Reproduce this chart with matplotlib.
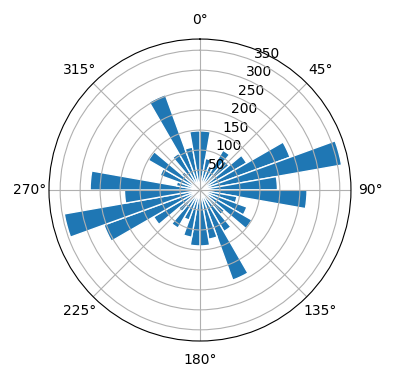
import numpy as np
import matplotlib
matplotlib.use("Agg")
import matplotlib.pyplot as plt

# bin centres (degrees, compass) and counts
directions = np.arange(5, 360, 10)
counts = [148, 80, 60, 115, 95, 135, 240, 360, 194,
          268, 94, 125, 150, 80, 120, 240, 125, 140,
          140, 120, 80, 110, 70, 134, 256, 345, 189,
          275, 60, 106, 149, 60, 106, 254, 109, 148]

fig = plt.figure(figsize=(3.96, 3.80), dpi=100)
ax = fig.add_axes([0.1237, 0.1026, 0.7626, 0.7947], projection='polar')
ax.set_theta_zero_location('N')
ax.set_theta_direction(-1)
ax.bar(np.radians(directions), counts, width=np.radians(10),
       color='#1f77b4', edgecolor='white', linewidth=1)
ax.set_rticks([50, 100, 150, 200, 250, 300, 350])
fig.savefig('out.png', dpi=100)
